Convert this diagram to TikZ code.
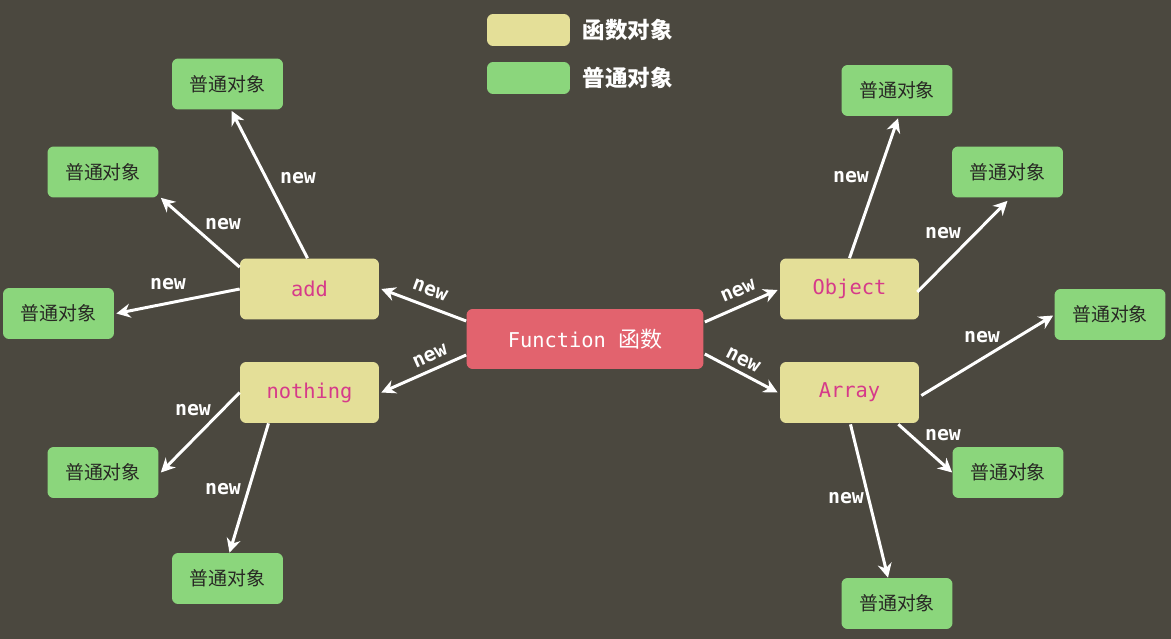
\documentclass[tikz,border=0pt]{standalone}
\usepackage{fontspec}
\setmainfont{Noto Sans CJK SC}
\newfontfamily\cjk{Noto Sans CJK SC}
\setmonofont{DejaVu Sans Mono}
\usetikzlibrary{arrows.meta,positioning,calc}
\definecolor{bgcol}{RGB}{75,72,63}
\definecolor{fncol}{RGB}{226,99,110}
\definecolor{objcol}{RGB}{139,214,124}
\definecolor{funcol}{RGB}{228,223,152}
\definecolor{namecol}{RGB}{214,58,138}
\definecolor{txtcol}{RGB}{40,40,36}
\tikzset{
    plain/.style={rectangle, rounded corners=3.5pt, fill=objcol, minimum width=2.22cm, minimum height=1.02cm, text=txtcol, font=\cjk\fontsize{10.8}{12}\selectfont},
    func/.style={rectangle, rounded corners=3.5pt, fill=funcol, minimum width=2.78cm, minimum height=1.22cm, text=namecol, font=\ttfamily\fontsize{11.6}{13}\selectfont},
    root/.style={rectangle, rounded corners=3.5pt, fill=fncol, minimum width=4.74cm, minimum height=1.2cm, text=white, font=\ttfamily\fontsize{11.6}{13}\selectfont},
    link/.style={draw=white, line width=1.7pt, -{Stealth[length=8pt,width=8pt]}},
    lbl/.style={text=white, font=\ttfamily\bfseries\fontsize{11.3}{13}\selectfont, inner sep=0pt},
    key/.style={rectangle, rounded corners=3.5pt, minimum width=1.66cm, minimum height=0.64cm},
    keytext/.style={text=white, inner sep=0pt, font=\cjk\bfseries\fontsize{12.8}{14}\selectfont}
}
\begin{document}
\begin{tikzpicture}[x=0.02cm, y=-0.02cm]
        \fill[bgcol] (0,0) rectangle (1171,639);
        \useasboundingbox (0,0) rectangle (1171,639);

        \node[key, fill=funcol] (keyf) at (528.5,30) {};
        \node[key, fill=objcol] (keyo) at (528.5,78) {};
        \node[keytext, right=0.24cm of keyf] (keyftext) {函数对象};
        \node[keytext, right=0.24cm of keyo] (keyotext) {普通对象};

        \node[root] (fn) at (585,339) {Function {\cjk\fontsize{12.5}{13}\selectfont 函数}};
        \node[func] (add) at (309.5,289) {add};
        \node[func] (nothing) at (309.5,392.5) {nothing};
        \node[func] (obj) at (849.5,289) {Object};
        \node[func] (arr) at (849.5,392.5) {Array};

        \node[plain] (l1) at (227.5,84) {普通对象};
        \node[plain] (l2) at (103,172) {普通对象};
        \node[plain] (l3) at (58.5,313.5) {普通对象};
        \node[plain] (l4) at (103,472.5) {普通对象};
        \node[plain] (l5) at (227.5,578.5) {普通对象};
        \node[plain] (r1) at (897,90.5) {普通对象};
        \node[plain] (r2) at (1007.5,172) {普通对象};
        \node[plain] (r3) at (1110,314.5) {普通对象};
        \node[plain] (r4) at (1008,472.5) {普通对象};
        \node[plain] (r5) at (897,603.5) {普通对象};

        \draw[link] ($(fn.west)+(0,-18)$) -- ($(add.east)+(2,0)$);
        \draw[link] ($(fn.west)+(0,16)$) -- ($(nothing.east)+(2,0)$);
        \draw[link] ($(fn.east)+(1,-17)$) -- ($(obj.west)+(-2,1)$);
        \draw[link] ($(fn.east)+(1,15)$) -- ($(arr.west)+(-2,0)$);

        \draw[link] ($(add.north)+(-2,0)$) -- ($(l1.south)+(4,1)$);
        \draw[link] ($(add.north west)+(0,9)$) -- ($(l2.south east)+(2,0)$);
        \draw[link] (add.west) -- ($(l3.east)+(2,0)$);
        \draw[link] (nothing.west) -- ($(l4.east)+(2,0)$);
        \draw[link] ($(nothing.south)+(-41,0)$) -- ($(l5.north)+(2,0)$);

        \draw[link] (obj.north) -- ($(r1.south)+(1,2)$);
        \draw[link] ($(obj.east)+(-2,3)$) -- ($(r2.south)+(0,3)$);
        \draw[link] ($(arr.east)+(2,3)$) -- ($(r3.west)+(-1,1)$);
        \draw[link] ($(arr.south east)+(-21,1)$) -- (r4.west);
        \draw[link] ($(arr.south)+(1,1)$) -- ($(r5.north)+(-9,0)$);

        \node[lbl, rotate=-20] (n1) at (430,290) {new};
        \node[lbl, rotate=24] (n2) at (430,356) {new};
        \node[lbl, rotate=23] (n3) at (738,291) {new};
        \node[lbl, rotate=-27] (n4) at (743,360) {new};
        \node[lbl] (n5) at (298,178) {new};
        \node[lbl] (n6) at (223,224) {new};
        \node[lbl] (n7) at (168,284) {new};
        \node[lbl] (n8) at (193,410) {new};
        \node[lbl] (n9) at (223,489) {new};
        \node[lbl] (n10) at (851,177) {new};
        \node[lbl] (n11) at (943,233) {new};
        \node[lbl] (n12) at (982,337) {new};
        \node[lbl] (n13) at (943,435) {new};
        \node[lbl] (n14) at (846,498) {new};

    \end{tikzpicture}
\end{document}
